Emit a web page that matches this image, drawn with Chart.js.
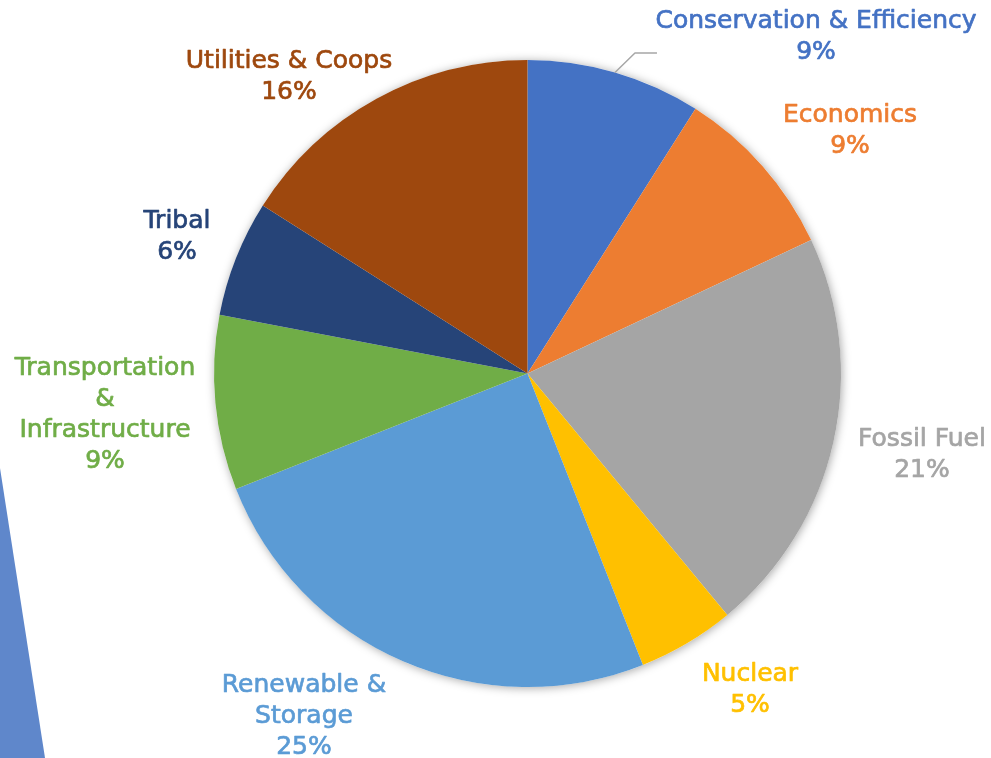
<!DOCTYPE html>
<html>
<head>
<meta charset="utf-8">
<script src="https://cdn.jsdelivr.net/npm/chart.js@4.4.1/dist/chart.umd.min.js"></script>
<style>
    html, body { margin: 0; padding: 0; background: #fff; }
    #wrap { position: relative; width: 991px; height: 758px; overflow: hidden; }
    #sliver {
        position: absolute; left: 0; top: 0; width: 991px; height: 758px;
        background: #5f87cb;
        clip-path: polygon(0 468px, 0 758px, 45px 758px);
    }
    canvas { position: absolute; left: 0; top: 0; }
</style>
</head>
<body>
<div id="wrap">
    <div id="sliver"></div>
    <canvas id="pieChart" width="991" height="758"></canvas>
</div>
<script>
// Chart data
const categories = [
    ['Conservation & Efficiency'],
    ['Economics'],
    ['Fossil Fuel'],
    ['Nuclear'],
    ['Renewable &', 'Storage'],
    ['Transportation', '&', 'Infrastructure'],
    ['Tribal'],
    ['Utilities & Coops']
];
const shares = [9, 9, 21, 5, 25, 9, 6, 16];
const colors = ['#4472C4', '#ED7D31', '#A5A5A5', '#FFC000', '#5B9BD5', '#70AD47', '#264478', '#9E480E'];

// label centres (first line), in page pixels
const labelPos = [[816, 21], [850, 115], [922, 439], [750, 674], [304, 685], [105, 368], [177, 221], [289, 61]];

// soft shadow behind the whole pie
const pieShadow = {
    id: 'pieShadow',
    beforeDatasetsDraw(chart) {
        const arc = chart.getDatasetMeta(0).data[0];
        const ctx = chart.ctx;
        ctx.save();
        ctx.shadowColor = 'rgba(0,0,0,0.35)';
        ctx.shadowBlur = 10;
        ctx.shadowOffsetX = 1;
        ctx.shadowOffsetY = 1;
        ctx.fillStyle = '#ffffff';
        ctx.beginPath();
        ctx.arc(arc.x, arc.y, arc.outerRadius, 0, Math.PI * 2);
        ctx.fill();
        ctx.restore();
    }
};

// category + percent labels around the pie
const pieLabels = {
    id: 'pieLabels',
    afterDatasetsDraw(chart) {
        const ctx = chart.ctx;
        const total = shares.reduce((s, v) => s + v, 0);
        ctx.save();
        ctx.font = '25px "DejaVu Sans"';
        ctx.textAlign = 'center';
        ctx.textBaseline = 'middle';
        ctx.lineWidth = 0.7;
        ctx.lineJoin = 'round';
        categories.forEach((lines, i) => {
            const [x, y] = labelPos[i];
            ctx.fillStyle = colors[i];
            ctx.strokeStyle = colors[i];
            const all = lines.concat([Math.round(shares[i] / total * 100) + '%']);
            all.forEach((t, j) => {
                ctx.fillText(t, x, y + j * 31);
                ctx.strokeText(t, x, y + j * 31);
            });
        });

        // leader line for the first slice
        const arc = chart.getDatasetMeta(0).data[0];
        const mid = (arc.startAngle + arc.endAngle) / 2;
        const ex = arc.x + Math.cos(mid) * arc.outerRadius;
        const ey = arc.y + Math.sin(mid) * arc.outerRadius;
        ctx.strokeStyle = '#a6a6a6';
        ctx.lineWidth = 1.5;
        ctx.beginPath();
        ctx.moveTo(ex, ey);
        ctx.lineTo(ex + 20, 53);
        ctx.lineTo(ex + 42, 53);
        ctx.stroke();
        ctx.restore();
    }
};

new Chart(document.getElementById('pieChart').getContext('2d'), {
    type: 'pie',
    data: {
        labels: categories.map(l => l.join(' ')),
        datasets: [{
            data: shares,
            backgroundColor: colors,
            borderWidth: 0,
            hoverOffset: 0
        }]
    },
    options: {
        responsive: false,
        animation: false,
        layout: { padding: { left: 214, right: 150, top: 60, bottom: 71 } },
        plugins: {
            legend: { display: false },
            tooltip: { enabled: false }
        }
    },
    plugins: [pieShadow, pieLabels]
});
</script>
</body>
</html>
